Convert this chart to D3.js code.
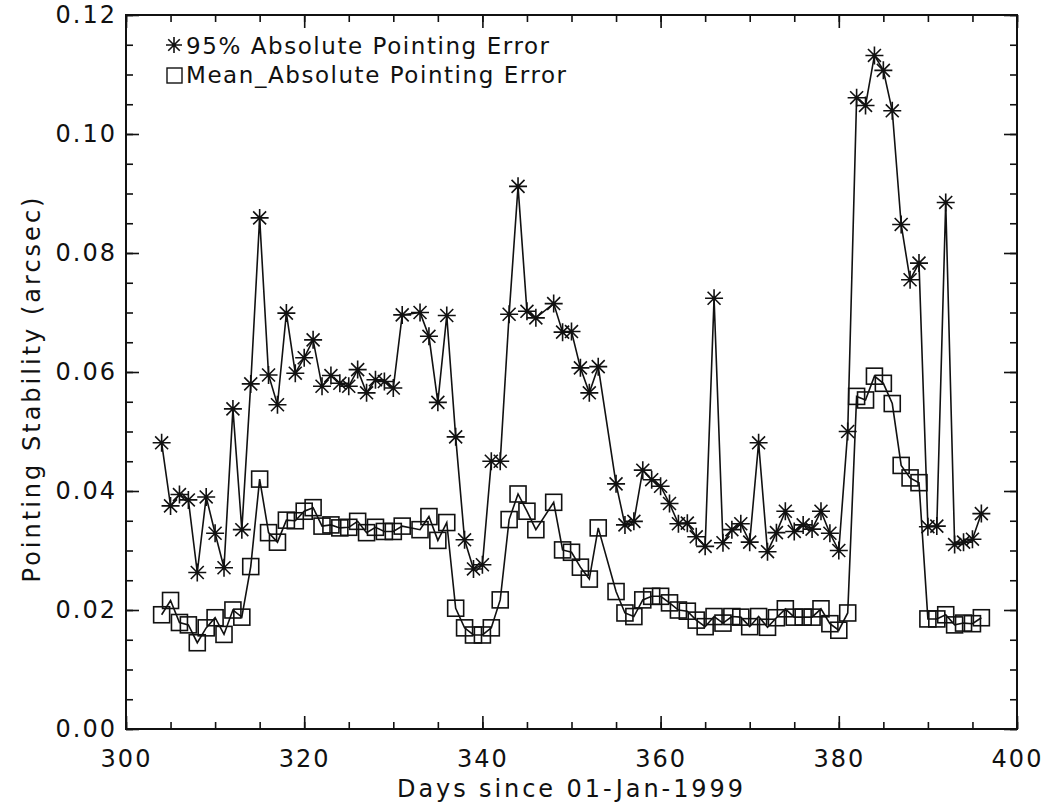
<!DOCTYPE html>
<html>
<head>
<meta charset="utf-8">
<script src="https://cdn.jsdelivr.net/npm/d3@7"></script>
<style>
  body { margin: 0; background: #fff; }
  svg text { font-family: "DejaVu Sans", "Open Sans", sans-serif; fill: #111; }
</style>
</head>
<body>
<svg id="chart" width="1042" height="805"></svg>
<script>
// days with data (332, 347 and 354 have no points)
let days = [304, 305, 306, 307, 308, 309, 310, 311, 312, 313, 314, 315, 316, 317, 318, 319,
    320, 321, 322, 323, 324, 325, 326, 327, 328, 329, 330, 331, 333, 334, 335, 336,
    337, 338, 339, 340, 341, 342, 343, 344, 345, 346, 348, 349, 350, 351, 352, 353,
    355, 356, 357, 358, 359, 360, 361, 362, 363, 364, 365, 366, 367, 368, 369, 370,
    371, 372, 373, 374, 375, 376, 377, 378, 379, 380, 381, 382, 383, 384, 385, 386,
    387, 388, 389, 390, 391, 392, 393, 394, 395, 396];

let ape95 = [0.0481, 0.0375, 0.0394, 0.0385, 0.0263, 0.0390, 0.0329, 0.0271, 0.0538, 0.0335, 0.0580, 0.0859, 0.0595, 0.0545, 0.0699, 0.0598,
    0.0624, 0.0654, 0.0576, 0.0594, 0.0581, 0.0576, 0.0604, 0.0565, 0.0587, 0.0584, 0.0573, 0.0696, 0.0700, 0.0660, 0.0549, 0.0695,
    0.0491, 0.0318, 0.0269, 0.0276, 0.0450, 0.0450, 0.0697, 0.0912, 0.0702, 0.0691, 0.0715, 0.0667, 0.0668, 0.0607, 0.0565, 0.0609,
    0.0412, 0.0343, 0.0349, 0.0435, 0.0419, 0.0408, 0.0379, 0.0345, 0.0346, 0.0323, 0.0307, 0.0724, 0.0313, 0.0335, 0.0345, 0.0314,
    0.0481, 0.0298, 0.0330, 0.0366, 0.0332, 0.0343, 0.0336, 0.0366, 0.0329, 0.0300, 0.0500, 0.1061, 0.1048, 0.1132, 0.1107, 0.1039,
    0.0848, 0.0755, 0.0783, 0.0340, 0.0341, 0.0885, 0.0310, 0.0314, 0.0319, 0.0362];

let apeMean = [0.0192, 0.0216, 0.0179, 0.0175, 0.0145, 0.0170, 0.0187, 0.0159, 0.0200, 0.0188, 0.0273, 0.0420, 0.0330, 0.0314, 0.0351, 0.0350,
    0.0366, 0.0372, 0.0341, 0.0343, 0.0338, 0.0339, 0.0349, 0.0330, 0.0339, 0.0332, 0.0332, 0.0341, 0.0335, 0.0357, 0.0317, 0.0347,
    0.0203, 0.0170, 0.0158, 0.0158, 0.0170, 0.0217, 0.0352, 0.0395, 0.0366, 0.0335, 0.0381, 0.0301, 0.0297, 0.0272, 0.0252, 0.0338,
    0.0231, 0.0195, 0.0189, 0.0217, 0.0223, 0.0223, 0.0212, 0.0200, 0.0198, 0.0183, 0.0172, 0.0189, 0.0178, 0.0189, 0.0188, 0.0172,
    0.0189, 0.0171, 0.0187, 0.0202, 0.0188, 0.0188, 0.0188, 0.0202, 0.0177, 0.0166, 0.0195, 0.0559, 0.0553, 0.0593, 0.0581, 0.0547,
    0.0443, 0.0422, 0.0414, 0.0185, 0.0185, 0.0192, 0.0175, 0.0178, 0.0177, 0.0187];

let xTicks = [300, 320, 340, 360, 380, 400];
let yTicks = [0.00, 0.02, 0.04, 0.06, 0.08, 0.10, 0.12];
let legendLabels = ["95% Absolute Pointing Error", "Mean_Absolute Pointing Error"];

let svg = d3.select("#chart");
let plotLeft = 126, plotRight = 1017, plotTop = 15, plotBottom = 729;

let xScale = d3.scaleLinear().domain([300, 400]).range([plotLeft, plotRight]);
let yScale = d3.scaleLinear().domain([0, 0.12]).range([plotBottom, plotTop]);

let xMinor = d3.range(300, 401, 5);
let yMinor = d3.range(0, 0.1201, 0.005);

/**
*   draws one axis: major ticks + labels, minor ticks inward
*/
function drawAxis(axisFn, scale, translate, major, minor, labels) {
    let g = svg.append("g").attr("transform", translate);
    g.call(axisFn(scale).tickValues(minor).tickSizeInner(-7).tickSizeOuter(0).tickFormat(""));
    let g2 = svg.append("g").attr("transform", translate);
    g2.call(axisFn(scale).tickValues(major).tickSizeInner(-13).tickSizeOuter(0)
        .tickPadding(labels ? (axisFn === d3.axisBottom ? 21 : 9) : 0)
        .tickFormat(labels ? labels : ""));
    [g, g2].forEach(function(a) {
        a.select(".domain").remove();
        a.selectAll("line").attr("stroke", "#111").attr("stroke-width", 1.6);
    });
    g2.selectAll("text")
        .style("font-size", "24px")
        .style("letter-spacing", "2px")
        .attr("fill", "#111");
    return g2;
}

drawAxis(d3.axisBottom, xScale, "translate(0," + plotBottom + ")", xTicks, xMinor, d3.format("d"));
drawAxis(d3.axisTop, xScale, "translate(0," + plotTop + ")", xTicks, xMinor, null);
drawAxis(d3.axisLeft, yScale, "translate(" + plotLeft + ",0)", yTicks, yMinor, d3.format(".2f"));
drawAxis(d3.axisRight, yScale, "translate(" + plotRight + ",0)", yTicks, yMinor, null);

// frame
svg.append("rect")
    .attr("x", plotLeft).attr("y", plotTop)
    .attr("width", plotRight - plotLeft).attr("height", plotBottom - plotTop)
    .attr("fill", "none").attr("stroke", "#111").attr("stroke-width", 2);

let line = d3.line()
    .x(function(d) { return xScale(d[0]); })
    .y(function(d) { return yScale(d[1]); });

let series95 = days.map(function(d, i) { return [d, ape95[i]]; });
let seriesMean = days.map(function(d, i) { return [d, apeMean[i]]; });

[series95, seriesMean].forEach(function(s) {
    svg.append("path")
        .datum(s)
        .attr("d", line)
        .attr("fill", "none")
        .attr("stroke", "#111")
        .attr("stroke-width", 1.6);
});

function starPath(r) {
    let a = r * 0.72;
    return "M" + (-r) + ",0L" + r + ",0M0," + (-r) + "L0," + r +
        "M" + (-a) + "," + (-a) + "L" + a + "," + a +
        "M" + (-a) + "," + a + "L" + a + "," + (-a);
}

svg.selectAll(".star")
    .data(series95)
    .enter()
    .append("path")
    .attr("class", "star")
    .attr("transform", function(d) { return "translate(" + xScale(d[0]) + "," + yScale(d[1]) + ")"; })
    .attr("d", starPath(9))
    .attr("stroke", "#111")
    .attr("stroke-width", 1.6)
    .attr("fill", "none");

let sq = 16;
svg.selectAll(".sq")
    .data(seriesMean)
    .enter()
    .append("rect")
    .attr("class", "sq")
    .attr("x", function(d) { return xScale(d[0]) - sq / 2; })
    .attr("y", function(d) { return yScale(d[1]) - sq / 2; })
    .attr("width", sq).attr("height", sq)
    .attr("fill", "none")
    .attr("stroke", "#111")
    .attr("stroke-width", 1.6);

// legend
let legendWidths = [363, 380];
let legend = svg.append("g");
legend.append("path")
    .attr("transform", "translate(174,45)")
    .attr("d", starPath(8))
    .attr("stroke", "#111").attr("stroke-width", 1.6).attr("fill", "none");
legend.append("rect")
    .attr("x", 167).attr("y", 68).attr("width", 15).attr("height", 15)
    .attr("fill", "none").attr("stroke", "#111").attr("stroke-width", 1.4);
legendLabels.forEach(function(t, i) {
    legend.append("text")
        .attr("x", 186).attr("y", 54 + i * 29)
        .attr("textLength", legendWidths[i])
        .attr("lengthAdjust", "spacing")
        .style("font-size", "23px")
        .text(t);
});

// axis titles
svg.append("text")
    .attr("x", 570).attr("y", 797)
    .attr("text-anchor", "middle")
    .attr("textLength", 346)
    .attr("lengthAdjust", "spacing")
    .style("font-size", "24px")
    .text("Days since 01-Jan-1999");

svg.append("text")
    .attr("transform", "translate(40,390) rotate(-90)")
    .attr("text-anchor", "middle")
    .attr("textLength", 385)
    .attr("lengthAdjust", "spacing")
    .style("font-size", "24px")
    .text("Pointing Stability (arcsec)");
</script>
</body>
</html>
